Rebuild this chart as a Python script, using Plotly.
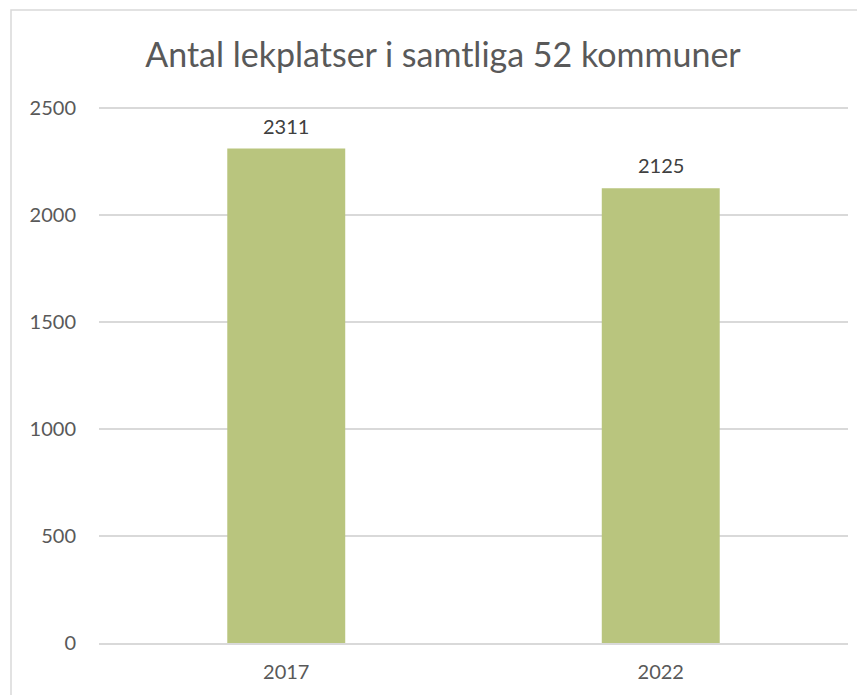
import plotly.graph_objects as go

years = ["2017", "2022"]
counts = [2311, 2125]
y_ticks = [0, 500, 1000, 1500, 2000, 2500]
y_max = 2510

# page body has an 8px margin; work in figure coordinates
OFF = 8
W, H = 865 - OFF, 695 - OFF
L, R, T, B = 99 - OFF, 865 - 848, 106 - OFF, 695 - 643
pw, ph = W - L - R, H - T - B

def px_x(x):
    return (x - OFF - L) / pw

def px_y(y):
    return (H - B - (y - OFF)) / ph

FONT = "Lato, Carlito, sans-serif"

fig = go.Figure()
fig.add_trace(go.Bar(
    x=years, y=counts,
    marker=dict(color="#B9C57E", line=dict(width=0)),
    width=0.315,
    hoverinfo="x+y",
))

# category-axis annotations: numeric-looking strings would be read as indices,
# so position by category index
for i, c in enumerate(counts):
    fig.add_annotation(x=i, y=c, xref="x", yref="y", text=str(c), showarrow=False,
                       yshift=23, font=dict(family=FONT, size=20, color="#404040"))

fig.add_shape(type="rect", xref="paper", yref="paper",
              x0=px_x(11), x1=px_x(875), y0=px_y(705), y1=px_y(10),
              line=dict(color="#D9D9D9", width=1.5), fillcolor="rgba(0,0,0,0)", layer="below")

fig.update_layout(
    width=W, height=H,
    margin=dict(l=L, r=R, t=T, b=B, autoexpand=False),
    paper_bgcolor="white", plot_bgcolor="white",
    title=dict(text="Antal lekplatser i samtliga 52 kommuner",
               x=px_x(443), xref="paper", xanchor="center",
               y=1 - (55 - OFF) / H, yanchor="middle",
               font=dict(family=FONT, size=34, color="#595959")),
    showlegend=False,
    font=dict(family=FONT, size=20, color="#595959"),
)
fig.update_yaxes(range=[0, y_max], tickvals=y_ticks, showgrid=True, gridcolor="#D9D9D9",
                 gridwidth=1.5, zeroline=False, showline=False, ticks="",
                 ticklabelstandoff=22, tickfont=dict(family=FONT, size=20, color="#595959"))
fig.update_xaxes(type="category", range=[-0.5, len(years) - 0.5],
                 showline=True, linecolor="#D9D9D9", linewidth=2, ticks="",
                 ticklabelstandoff=10, tickfont=dict(family=FONT, size=20, color="#595959"))

fig.write_html("out.html")
